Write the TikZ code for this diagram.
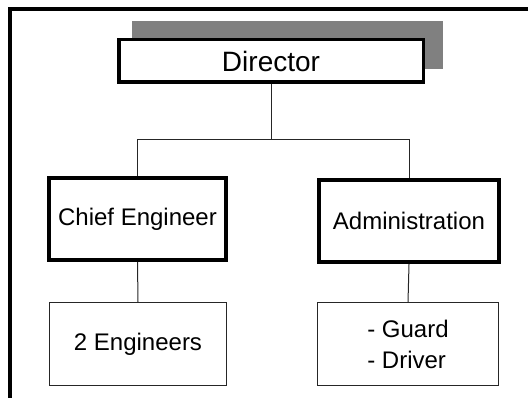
\documentclass[tikz,border=0pt]{standalone}
\usepackage{fontspec}
\setmainfont{Liberation Sans}
\begin{document}
\begin{tikzpicture}[x=1pt,y=-1pt,
  boxbold/.style={draw=black,line width=4pt,fill=white,inner sep=0pt,font=\fontsize{24}{28}\selectfont},
  boxthin/.style={draw=black!85,line width=1.3pt,fill=white,inner sep=0pt,font=\fontsize{24}{31}\selectfont},
  link/.style={draw=black!85,line width=1pt}]
\useasboundingbox (0,0) rectangle (529,398);
% page frame (top and left edges only)
\draw[line width=4pt,line join=miter] (528,9) -- (10,9) -- (10,398);
% drop shadow behind the head box
\fill[black!50] (132,21) rectangle (443,69);
\node[boxbold,line width=3.5pt,minimum width=304.5pt,minimum height=42.5pt,
  font=\fontsize{28}{32}\selectfont] (dir) at (271,61) {Director};
\node[boxbold,minimum width=177pt,minimum height=82pt] (chief) at (137.5,219) {Chief Engineer};
\node[boxbold,minimum width=180pt,minimum height=82pt] (admin) at (409,221) {Administration};
\node[boxthin,minimum width=176.5pt,minimum height=82.5pt] (eng) at (138,344) {2 Engineers};
\node[boxthin,minimum width=180.5pt,minimum height=82.5pt,align=left] (staff) at (408,344) {- Guard\\- Driver};
% connectors
\coordinate (bus) at (271,140);
\draw[link] (dir.south) -- (bus);
\draw[link] (chief.north) -- (chief.north |- bus) -- (admin.north |- bus) -- (admin.north);
\draw[link] (chief.south) -- (eng.north);
\draw[link] (admin.south) -- (staff.north);
\end{tikzpicture}
\end{document}
